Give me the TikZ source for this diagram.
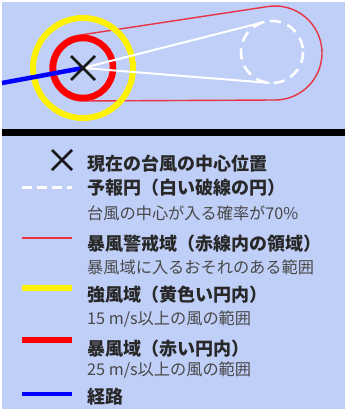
\documentclass[tikz,border=0pt]{standalone}
\usepackage{fontspec}
\setmainfont{Noto Sans CJK JP}
\definecolor{bg}{RGB}{192,207,248}
\definecolor{warnred}{RGB}{232,52,66}
\definecolor{headtxt}{RGB}{40,40,40}
\definecolor{subtxt}{RGB}{72,72,72}
\tikzset{
  headlabel/.style={anchor=base west,inner sep=0pt,text=headtxt,font=\fontsize{18}{20}\selectfont\bfseries},
  sublabel/.style={anchor=base west,inner sep=0pt,text=subtxt,font=\fontsize{16.2}{18}\selectfont},
  xmark/.style={line width=2.5pt,black!90},
  forecastline/.style={white,line width=3pt,dash pattern=on 10pt off 5pt},
  forecastcirc/.style={white,line width=2.6pt,dash pattern=on 11pt off 7pt},
  warnline/.style={warnred,line width=1.4pt},
  stronglinesty/.style={yellow,line width=5.5pt},
  stormlinesty/.style={red,line width=5.5pt},
  routeline/.style={blue,line width=4.5pt},
  tangentline/.style={white,line width=2pt},
}
\begin{document}
\begin{tikzpicture}[x=1pt,y=-1pt]
\useasboundingbox (0,0) rectangle (349,417);
\fill[white] (0,0) rectangle (349,417);
\fill[bg] (2,2) rectangle (345,409);

% ---- map part ----
\coordinate (c) at (83,68);
\coordinate (wc) at (275,53);
\coordinate (fc) at (272,52);
\coordinate (w1) at ([shift={(-98.64:33)}]c);
\coordinate (w2) at ([shift={(-98.64:47)}]wc);
\draw[warnline] (w1) -- (w2) arc[start angle=-98.64,end angle=89.7,radius=47]
  -- ([shift={(89.7:33)}]c) arc[start angle=89.7,end angle=261.36,radius=33] -- cycle;
\draw[yellow,line width=6pt] (c) circle[radius=50];
\draw[red,line width=6.5pt] (c) circle[radius=30];
\coordinate (t1) at ([shift={(256.06:31)}]fc);
\coordinate (t2) at ([shift={(94.86:31)}]fc);
\draw[tangentline] (t1) -- (c) -- (t2);
\draw[forecastcirc] (fc) circle[radius=31];
\coordinate (r0) at (2,83);
\draw[routeline] (r0) -- (c);
\draw[xmark] ([shift={(-12,-12)}]c) -- ([shift={(12,12)}]c);
\draw[xmark] ([shift={(-12,12)}]c) -- ([shift={(12,-12)}]c);

% separator
\fill[black] (2,128.5) rectangle (345,135.5);

% ---- legend ----
\coordinate (lx) at (62,160);
\draw[xmark] ([shift={(-10,-10)}]lx) -- ([shift={(10,10)}]lx);
\draw[xmark] ([shift={(-10,10)}]lx) -- ([shift={(10,-10)}]lx);
\node[headlabel] (h1) at (87,170) {現在の台風の中心位置};

\coordinate (a2) at (22,187); \coordinate (b2) at (72,187);
\draw[forecastline] (a2) -- (b2);
\node[headlabel] (h2) at (87,194.5) {予報円（白い破線の円）};
\node[sublabel] (s2) at (87,219) {台風の中心が入る確率が70\%};

\coordinate (a3) at (22,238); \coordinate (b3) at (72,238);
\draw[warnline] (a3) -- (b3);
\node[headlabel] (h3) at (87,250.5) {暴風警戒域（赤線内の領域）};
\node[sublabel] (s3) at (87,273) {暴風域に入るおそれのある範囲};

\coordinate (a4) at (22,288); \coordinate (b4) at (72,288);
\draw[stronglinesty] (a4) -- (b4);
\node[headlabel] (h4) at (87,301.5) {強風域（黄色い円内）};
\node[sublabel] (s4) at (87,324) {15 m/s以上の風の範囲};

\coordinate (a5) at (22,340); \coordinate (b5) at (72,340);
\draw[stormlinesty] (a5) -- (b5);
\node[headlabel] (h5) at (87,355.5) {暴風域（赤い円内）};
\node[sublabel] (s5) at (87,375) {25 m/s以上の風の範囲};

\coordinate (a6) at (22,394); \coordinate (b6) at (72,394);
\draw[routeline] (a6) -- (b6);
\node[headlabel] (h6) at (87,403.5) {経路};
\end{tikzpicture}
\end{document}
